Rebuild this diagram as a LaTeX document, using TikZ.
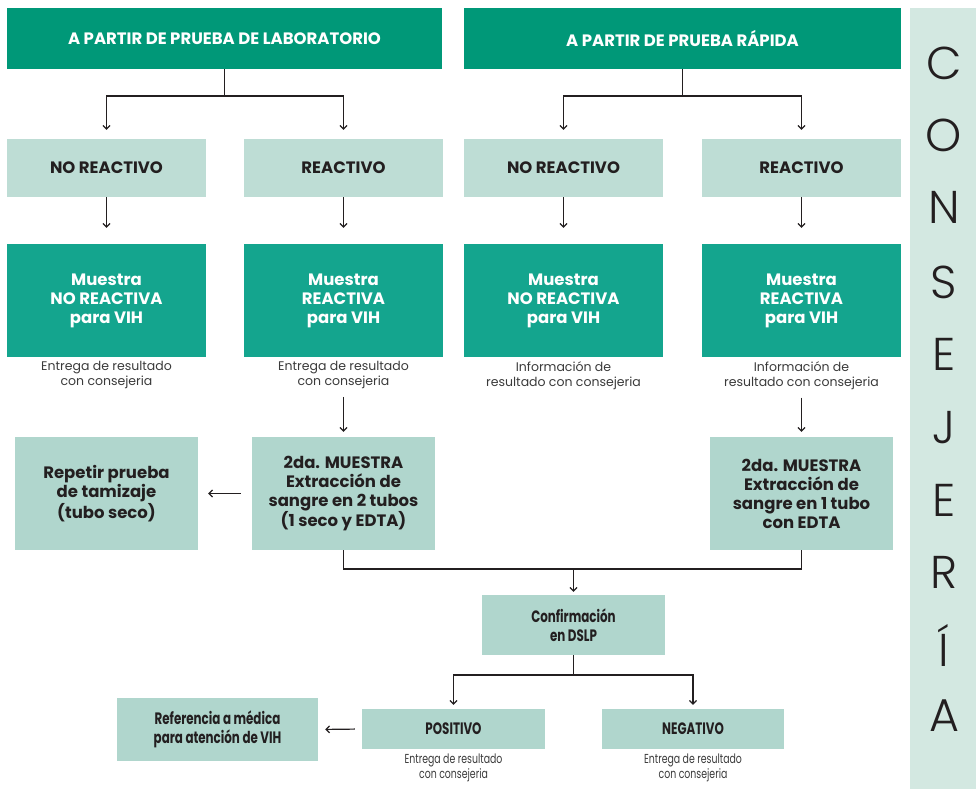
\documentclass[tikz,border=0pt]{standalone}
\usepackage{fontspec}
\setmainfont{Poppins}
\newfontfamily\condf[FakeStretch=0.72]{Poppins}
\IfFontExistsTF{Poppins Light}{\newfontfamily\lightf{Poppins Light}}{\newfontfamily\lightf{Poppins}}
\usetikzlibrary{arrows.meta}
\definecolor{dkgreen}{HTML}{009878}
\definecolor{teal2}{HTML}{14A58E}
\definecolor{lite}{HTML}{BEDDD5}
\definecolor{lite2}{HTML}{B0D6CD}
\definecolor{band}{HTML}{D3E8E1}
\definecolor{ink}{HTML}{231F20}
\definecolor{capc}{HTML}{3A3A3A}
\tikzset{
  box/.style={inner sep=0pt, align=center, font=\fontsize{16.5}{19}\selectfont\bfseries},
  cbox/.style={inner sep=0pt, align=center, font=\condf\fontsize{16.5}{19}\selectfont\bfseries},
  topbox/.style={box, fill=dkgreen, text=white},
  resbox/.style={box, fill=lite, text=ink, minimum width=199pt, minimum height=58pt},
  muebox/.style={box, fill=teal2, text=white, minimum width=199pt, minimum height=113pt},
  stepbox/.style={box, fill=lite2, text=ink},
  lowbox/.style={cbox, fill=lite2, text=ink},
  capt/.style={align=center, text=capc, font=\fontsize{12.5}{15}\selectfont, inner sep=0pt},
  ccapt/.style={align=center, text=capc, font=\condf\fontsize{13}{15}\selectfont, inner sep=0pt},
  conn/.style={draw=ink, line width=1.2pt},
  arr/.style={conn, -{Straight Barb[length=3.5pt,width=7pt,line width=1.2pt]}},
  bigl/.style={text=ink, font=\lightf\fontsize{46}{46}\selectfont, inner sep=0pt}
}
\begin{document}
\begin{tikzpicture}[x=1pt,y=-1pt]
\useasboundingbox (0,0) rectangle (976,789);
% band
\fill[band] (910,8) rectangle (976,789);
\foreach \l/\y [count=\i] in {C/63,O/135,N/207,S/282,E/354,J/428,E/500,R/572,Í/645,A/716}
  \node[bigl] (L\i) at (944,\y) {\l};
% top
\node[topbox, minimum width=435pt, minimum height=61pt] (top1) at (224.5,38.5) {A PARTIR DE PRUEBA DE LABORATORIO};
\node[topbox, minimum width=437pt, minimum height=61pt] (top2) at (682.5,38.5) {A PARTIR DE PRUEBA RÁPIDA};
% row 2
\node[resbox] (nr1) at (106.5,168) {NO REACTIVO};
\node[resbox] (r1) at (343.5,168) {REACTIVO};
\node[resbox] (nr2) at (563.5,168) {NO REACTIVO};
\node[resbox] (r2) at (801.5,168) {REACTIVO};
% row 3
\node[muebox] (m1) at (106.5,300.5) {Muestra\\NO REACTIVA\\para VIH};
\node[muebox] (m2) at (343.5,300.5) {Muestra\\REACTIVA\\para VIH};
\node[muebox] (m3) at (563.5,300.5) {Muestra\\NO REACTIVA\\para VIH};
\node[muebox] (m4) at (801.5,300.5) {Muestra\\REACTIVA\\para VIH};
\node[capt, anchor=north] (c1) at (106.5,361) {Entrega de resultado\\con consejeria};
\node[capt, anchor=north] (c2) at (343.5,361) {Entrega de resultado\\con consejeria};
\node[capt, anchor=north] (c3) at (563.5,361) {Información de\\resultado con consejeria};
\node[capt, anchor=north] (c4) at (801.5,361) {Información de\\resultado con consejeria};
% row 4
\node[stepbox, minimum width=183pt, minimum height=113pt] (rep) at (106.5,493.5) {Repetir prueba\\de tamizaje\\(tubo seco)};
\node[stepbox, minimum width=183pt, minimum height=113pt] (s2a) at (343.5,493.5) {2da. MUESTRA\\Extracción de\\sangre en 2 tubos\\(1 seco y EDTA)};
\node[stepbox, minimum width=183pt, minimum height=113pt] (s2b) at (801.5,493.5) {2da. MUESTRA\\Extracción de\\sangre en 1 tubo\\con EDTA};
% confirmation
\node[lowbox, minimum width=183pt, minimum height=60pt] (conf) at (573.5,625) {Confirmación\\en DSLP};
\node[lowbox, minimum width=183pt, minimum height=40pt] (pos) at (453.5,729) {POSITIVO};
\node[lowbox, minimum width=182pt, minimum height=40pt] (neg) at (693,729) {NEGATIVO};
\node[lowbox, minimum width=201pt, minimum height=63pt] (ref) at (217.5,729.5) {Referencia a médica\\para atención de VIH};
\node[ccapt, anchor=north] (cp) at (453.5,754) {Entrega de resultado\\con consejeria};
\node[ccapt, anchor=north] (cn) at (693,754) {Entrega de resultado\\con consejeria};
% junction coordinates
\coordinate (j1) at (224.5,96);
\coordinate (j2) at (682.5,96);
\coordinate (j3) at (573.5,569);
\coordinate (j4) at (573.5,675);
% connectors
\draw[conn] (top1.south) -- (j1);
\draw[arr, shorten >=9pt] (j1) -| (nr1.north);
\draw[arr, shorten >=9pt] (j1) -| (r1.north);
\draw[conn] (top2.south) -- (j2);
\draw[arr, shorten >=9pt] (j2) -| (nr2.north);
\draw[arr, shorten >=9pt] (j2) -| (r2.north);
\foreach \a/\b in {nr1/m1,r1/m2,nr2/m3,r2/m4}
  \draw[arr, shorten >=16pt] (\a.south) -- (\b.north);
\draw[arr, shorten <=8pt, shorten >=5pt] (c2.south) -- (s2a.north);
\draw[arr, shorten <=8pt, shorten >=5pt] (c4.south) -- (s2b.north);
\draw[arr, shorten <=11pt, shorten >=10pt] (s2a.west) -- (rep.east);
\draw[conn] (s2a.south) |- (j3) -| (s2b.south);
\draw[arr, shorten >=3pt] (j3) -- (conf.north);
\draw[conn] (conf.south) -- (j4);
\draw[arr, shorten >=4pt] (j4) -| (pos.north);
\draw[arr, shorten >=4pt] (j4) -| (neg.north);
\draw[arr, shorten <=7pt, shorten >=7pt] (pos.west) -- (ref.east);
\end{tikzpicture}
\end{document}
